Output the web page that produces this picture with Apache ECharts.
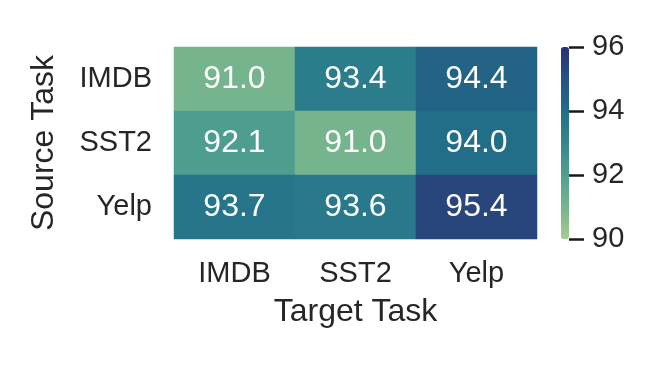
<!DOCTYPE html>
<html>
<head>
<meta charset="utf-8">
<script src="https://cdn.jsdelivr.net/npm/echarts@6/dist/echarts.min.js"></script>
<style>
  html, body { margin: 0; padding: 0; background: #fff; }
  #chart { width: 664px; height: 366px; }
</style>
</head>
<body>
<div id="chart"></div>
<script>
// 数据
var targetTasks = ['IMDB', 'SST2', 'Yelp'];
var sourceTasks = ['IMDB', 'SST2', 'Yelp'];
// 每行一个 source task，顺序对应 targetTasks
var rowIMDB = [91.0, 93.4, 94.4];
var rowSST2 = [92.1, 91.0, 94.0];
var rowYelp = [93.7, 93.6, 95.4];
var colorTicks = [90, 92, 94, 96];

var rows = [rowIMDB, rowSST2, rowYelp];
var cells = [];
rows.forEach(function (row, r) {
  row.forEach(function (v, c) {
    cells.push([c, r, v]);
  });
});

var font = 'Liberation Sans, Arial, sans-serif';
var txt = '#262626';

var chart = echarts.init(document.getElementById('chart'));
var option = {
  backgroundColor: '#fff',
  animation: false,
  textStyle: { fontFamily: font },
  grid: [
    { left: 174, top: 47, width: 363, height: 192 },
    // 色条刻度用
    { left: 561, top: 47, width: 8, height: 192 }
  ],
  xAxis: [{
    type: 'category',
    data: targetTasks,
    gridIndex: 0,
    name: 'Target Task',
    nameLocation: 'middle',
    nameGap: 57,
    nameTextStyle: { fontSize: 32, color: txt, fontFamily: font },
    axisLine: { show: false },
    axisTick: { show: false },
    axisLabel: { fontSize: 29, color: txt, margin: 20, fontFamily: font },
    splitLine: { show: false }
  }, {
    type: 'value',
    gridIndex: 1,
    show: false
  }],
  yAxis: [{
    type: 'category',
    data: sourceTasks,
    inverse: true,
    gridIndex: 0,
    name: 'Source Task',
    nameLocation: 'middle',
    nameGap: 114,
    nameRotate: 90,
    nameTextStyle: { fontSize: 32, color: txt, fontFamily: font },
    axisLine: { show: false },
    axisTick: { show: false },
    axisLabel: { fontSize: 29, color: txt, margin: 22, fontFamily: font },
    splitLine: { show: false }
  }, {
    type: 'value',
    gridIndex: 1,
    position: 'right',
    min: colorTicks[0],
    max: colorTicks[colorTicks.length - 1],
    interval: 2,
    axisLine: { show: false, onZero: false },
    axisTick: { show: true, inside: false, length: 15, lineStyle: { color: '#1a1a1a', width: 2.5 } },
    axisLabel: { fontSize: 29, color: txt, margin: 23, fontFamily: font },
    splitLine: { show: false }
  }],
  visualMap: {
    type: 'continuous',
    min: 90,
    max: 96,
    seriesIndex: 0,
    calculable: false,
    orient: 'vertical',
    left: 561,
    top: 47,
    padding: 0,
    itemWidth: 8,
    itemHeight: 192,
    text: ['', ''],
    showLabel: false,
    inRange: {
      color: ['#a5cd90', '#76b48e', '#50a08f', '#33878d', '#226e89', '#255282', '#2c3172']
    }
  },
  series: [{
    type: 'heatmap',
    xAxisIndex: 0,
    yAxisIndex: 0,
    data: cells,
    label: {
      show: true,
      color: '#fff',
      fontSize: 32,
      fontFamily: font,
      formatter: function (p) { return p.value[2].toFixed(1); }
    },
    itemStyle: { borderWidth: 0 },
    emphasis: { disabled: true }
  }]
};
chart.setOption(option);
</script>
</body>
</html>
